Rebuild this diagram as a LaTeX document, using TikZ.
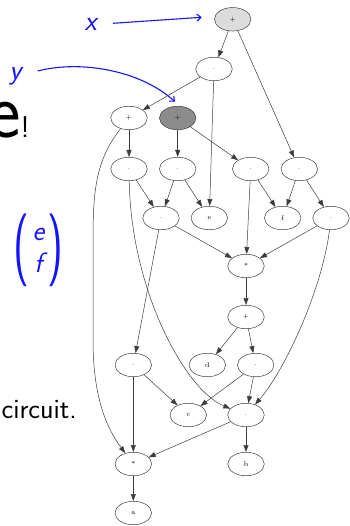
\documentclass[tikz,border=0pt]{standalone}
\usepackage{graphicx}
\usetikzlibrary{shapes.geometric,arrows.meta}
\definecolor{lightfill}{RGB}{220,220,220}
\definecolor{darkfill}{RGB}{140,140,140}
\definecolor{edgecol}{RGB}{60,60,60}
\definecolor{slideblue}{RGB}{20,20,255}
\newcommand{\bigparen}[1]{\vcenter{\hbox{\scalebox{1.55}[2.6]{#1}}}}
\begin{document}
\begin{tikzpicture}[x=1pt,y=-1pt,
  gv/.style={ellipse, draw=edgecol, line width=0.5pt, minimum width=36.5pt, minimum height=23.5pt, inner sep=0pt, font=\fontsize{7}{8}\selectfont},
  ed/.style={draw=edgecol, line width=0.5pt, -{Triangle[length=7pt,width=5pt]}},
  bluearr/.style={draw=slideblue, line width=1.1pt, -{Straight Barb[length=4pt,width=7pt]}},
  bluetxt/.style={text=slideblue, inner sep=0pt, font=\sffamily\itshape\fontsize{28}{32}\selectfont},
  slidetxt/.style={inner sep=0pt, font=\sffamily\fontsize{28}{33}\selectfont}]
\useasboundingbox (0,0) rectangle (349,526);

% slide text
\node[inner sep=0pt, anchor=base east, font=\sffamily\fontsize{80}{90}\selectfont] (bige) at (21,138) {e};
\node[inner sep=0pt, anchor=base west, font=\sffamily\fontsize{30}{36}\selectfont] (bang) at (20.5,138) {!};
\node[slidetxt, anchor=base east] (circ) at (77,418) {circuit.};
\node[bluetxt, anchor=base] (xlab) at (90.7,31) {x};
\node[bluetxt, anchor=base] (ylab) at (15.5,80) {y};
\node[text=slideblue, inner sep=0pt, font=\sffamily\fontsize{28}{32}\selectfont] (vec) at (38.5,250)
  {$\bigparen{(}\mkern2mu\vcenter{\hbox{\begin{tabular}{@{}c@{}}\itshape e\\\itshape f\end{tabular}}}\mkern2mu\bigparen{)}$};

% graph nodes
\node[gv, fill=lightfill] (P0) at (232.7,19.3) {+};
\node[gv] (D1) at (214,69) {.};
\node[gv] (PL) at (129,118) {+};
\node[gv, fill=darkfill] (PD) at (177.7,118) {+};
\node[gv] (A2) at (129,169) {.};
\node[gv] (B2) at (177.7,169) {.};
\node[gv] (C2) at (250.7,169) {.};
\node[gv] (D2) at (299.3,169) {.};
\node[gv] (A3) at (161,218) {.};
\node[gv] (E) at (209.3,218) {e};
\node[gv] (F) at (282.7,218) {f};
\node[gv] (D3) at (331,218) {.};
\node[gv] (M1) at (246,266) {*};
\node[gv] (P1) at (246,317) {+};
\node[gv] (A4) at (133.3,365) {.};
\node[gv] (Dn) at (207.3,365) {d};
\node[gv] (C4) at (255.7,365) {.};
\node[gv] (Cn) at (188.3,415) {c};
\node[gv] (B5) at (246,415) {.};
\node[gv] (M2) at (133.3,464) {*};
\node[gv] (Bn) at (246,464) {b};
\node[gv] (An) at (133.3,513) {a};

% edges
\draw[ed] (P0) -- (D1);
\draw[ed] (P0) -- (D2);
\draw[ed] (D1) -- (PL);
\draw[ed] (D1) -- (E);
\draw[ed] (PL) -- (A2);
\draw[ed] (PL) .. controls (96,160) and (93,190) .. (93,240) -- (93,340) .. controls (93,400) and (108,430) .. (M2);
\draw[ed] (PD) -- (B2);
\draw[ed] (PD) -- (C2);
\draw[ed] (A2) -- (A3);
\draw[ed] (A2) .. controls (131,290) and (185,390) .. (B5);
\draw[ed] (B2) -- (A3);
\draw[ed] (B2) -- (E);
\draw[ed] (C2) -- (F);
\draw[ed] (C2) -- (M1);
\draw[ed] (D2) -- (F);
\draw[ed] (D2) -- (D3);
\draw[ed] (A3) -- (M1);
\draw[ed] (A3) -- (A4);
\draw[ed] (D3) -- (M1);
\draw[ed] (D3) .. controls (322,290) and (285,370) .. (B5);
\draw[ed] (M1) -- (P1);
\draw[ed] (P1) -- (Dn);
\draw[ed] (P1) -- (C4);
\draw[ed] (A4) -- (Cn);
\draw[ed] (A4) -- (M2);
\draw[ed] (C4) -- (Cn);
\draw[ed] (C4) -- (B5);
\draw[ed] (B5) -- (M2);
\draw[ed] (B5) -- (Bn);
\draw[ed] (M2) -- (An);

% blue annotation arrows
\coordinate (xs) at (113,23.3);
\coordinate (xe) at (201.7,17.3);
\coordinate (ys) at (37.7,71);
\coordinate (ye) at (175,101.7);
\draw[bluearr] (xs) -- (xe);
\draw[bluearr] (ys) .. controls (80,60) and (140,70) .. (ye);
\end{tikzpicture}
\end{document}
